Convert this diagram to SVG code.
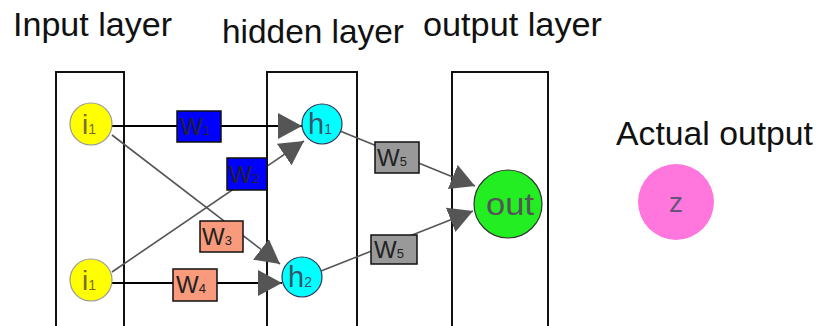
<svg xmlns="http://www.w3.org/2000/svg" width="817" height="326" viewBox="0 0 817 326">
<style>
.title{font-family:"Liberation Sans",Arial,sans-serif;font-size:33px;fill:#111}
.layer{fill:none;stroke:#111;stroke-width:2}
.blk{stroke:#000;stroke-width:2;fill:none}
.gry{stroke:#555;stroke-width:1.6;fill:none}
.wt{font-family:"Liberation Sans",Arial,sans-serif;font-size:24px;fill:#222}
.sub{font-size:13px}
.wbox{stroke:#111;stroke-width:1.5}
.blue{fill:#0000ff}
.sal{fill:#f99a7c}
.gray{fill:#999}
.nt{font-family:"Liberation Sans",Arial,sans-serif}
</style>
<defs>
<marker id="ah" markerUnits="userSpaceOnUse" markerWidth="24" markerHeight="26" refX="24" refY="13" orient="auto">
<path d="M0,0 L24,13 L0,26 z" fill="#555"/>
</marker>
</defs>
<rect width="817" height="326" fill="#fff"/>
<g id="titles">
<text class="title" x="13" y="36" textLength="159" lengthAdjust="spacingAndGlyphs">Input layer</text>
<text class="title" x="222" y="43" textLength="182" lengthAdjust="spacingAndGlyphs">hidden layer</text>
<text class="title" x="423" y="36" textLength="179" lengthAdjust="spacingAndGlyphs">output layer</text>
<text class="title" x="616" y="145" textLength="197" lengthAdjust="spacingAndGlyphs">Actual output</text>
</g>
<g id="layers">
<rect class="layer" x="56" y="72" width="68" height="270"/>
<rect class="layer" x="267" y="72" width="90" height="270"/>
<rect class="layer" x="452" y="72" width="96" height="270"/>
</g>
<g id="connectors">
<path class="blk" d="M112,126 L302,126" marker-end="url(#ah)"/>
<path class="gry" d="M112,135 L280,264" marker-end="url(#ah)"/>
<path class="gry" d="M112,272 L304,141" marker-end="url(#ah)"/>
<path class="blk" d="M112,283 L282,283" marker-end="url(#ah)"/>
<path class="gry" d="M340,131 L475,186" marker-end="url(#ah)"/>
<path class="gry" d="M321,271 L473,211" marker-end="url(#ah)"/>
</g>
<g id="w1"><rect class="wbox blue" x="177" y="111" width="44" height="31"/><text class="wt" x="180" y="135">W<tspan class="sub">1</tspan></text></g>
<g id="w2"><rect class="wbox blue" x="227" y="158" width="40" height="32"/><text class="wt" x="229" y="183">W<tspan class="sub">2</tspan></text></g>
<g id="w3"><rect class="wbox sal" x="200" y="221" width="43" height="31"/><text class="wt" x="202" y="245">W<tspan class="sub">3</tspan></text></g>
<g id="w4"><rect class="wbox sal" x="173" y="269" width="44" height="32"/><text class="wt" x="176" y="293">W<tspan class="sub">4</tspan></text></g>
<g id="w5a"><rect class="wbox gray" x="375" y="142" width="44" height="31"/><text class="wt" x="377" y="166">W<tspan class="sub">5</tspan></text></g>
<g id="w5b"><rect class="wbox gray" x="371" y="235" width="46" height="29"/><text class="wt" x="374" y="258">W<tspan class="sub">5</tspan></text></g>
<g id="i1a"><circle cx="91" cy="124" r="21" fill="#ffff00" stroke="#999" stroke-width="1.2"/><text class="nt" x="82" y="134" font-size="28" fill="#7a6a3a">i<tspan font-size="14">1</tspan></text></g>
<g id="i1b"><circle cx="91" cy="280" r="21" fill="#ffff00" stroke="#999" stroke-width="1.2"/><text class="nt" x="82" y="290" font-size="28" fill="#7a6a3a">i<tspan font-size="14">1</tspan></text></g>
<g id="h1"><circle cx="322" cy="124" r="20" fill="#00ffff" stroke="#335" stroke-width="1.2"/><text class="nt" x="308" y="134" font-size="29" fill="#3a5566">h<tspan font-size="14">1</tspan></text></g>
<g id="h2"><circle cx="302" cy="277" r="20" fill="#00ffff" stroke="#335" stroke-width="1.2"/><text class="nt" x="288" y="287" font-size="29" fill="#3a5566">h<tspan font-size="14">2</tspan></text></g>
<g id="out"><circle cx="508" cy="204" r="34" fill="#22ee22" stroke="#333" stroke-width="1.2"/><text class="nt" x="510" y="215" font-size="32" fill="#555" text-anchor="middle" textLength="48" lengthAdjust="spacingAndGlyphs">out</text></g>
<g id="z"><circle cx="676" cy="202" r="38" fill="#ff77dd"/><text class="nt" x="676" y="212" font-size="28" fill="#66557a" text-anchor="middle">z</text></g>
</svg>
